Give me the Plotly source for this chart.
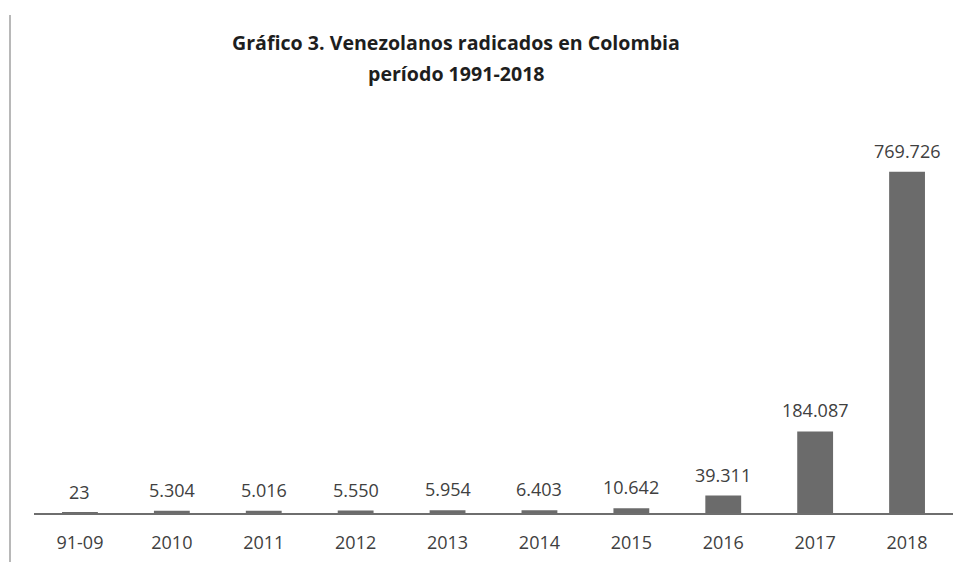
import plotly.graph_objects as go

categories = ["91-09", "2010", "2011", "2012", "2013", "2014", "2015", "2016", "2017", "2018"]
values = [23, 5304, 5016, 5550, 5954, 6403, 10642, 39311, 184087, 769726]
labels = ["23", "5.304", "5.016", "5.550", "5.954", "6.403", "10.642", "39.311", "184.087", "769.726"]
title_lines = ["Gráfico 3. Venezolanos radicados en Colombia", "período 1991-2018"]

# page has an 8px body margin; figure coords = page coords - 8
W, H = 960, 554
L, R, T, B = 26, 15, 106, 49
plot_w = W - L - R
plot_h = H - T - B

def px(x):
    return (x - L) / plot_w

def py(y):
    return (H - B - y) / plot_h

FONT = "Open Sans, sans-serif"

fig = go.Figure()
fig.add_trace(go.Bar(
    x=categories, y=values,
    marker=dict(color="#6b6b6b", line=dict(width=0)),
    width=0.39, cliponaxis=False, hoverinfo="x+y",
))

# category index positions for the value labels
label_annotations = [
    dict(x=i, y=v, xref="x", yref="y", text=t, showarrow=False,
         xanchor="center", yanchor="middle", yshift=21,
         font=dict(family=FONT, size=18, color="#404040"))
    for i, (v, t) in enumerate(zip(values, labels))
]

title_annotations = [
    dict(text="<b>" + title_lines[0] + "</b>", xref="paper", yref="paper",
         x=px(448), y=py(35), xanchor="center", yanchor="middle", showarrow=False,
         font=dict(family=FONT, size=19.6, color="#1e1e1e")),
    dict(text="<b>" + title_lines[1] + "</b>", xref="paper", yref="paper",
         x=px(448), y=py(65), xanchor="center", yanchor="middle", showarrow=False,
         font=dict(family=FONT, size=19.6, color="#1e1e1e")),
]

fig.update_layout(
    width=W, height=H,
    margin=dict(l=L, r=R, t=T, b=B, autoexpand=False),
    paper_bgcolor="white", plot_bgcolor="white",
    showlegend=False,
    xaxis=dict(
        type="category", categoryorder="array", categoryarray=categories,
        range=[-0.5, len(categories) - 0.5], automargin=False,
        showline=True, linecolor="#6e6e6e", linewidth=1.5,
        ticks="", ticklabelstandoff=13,
        tickfont=dict(family=FONT, size=18, color="#404040"),
        showgrid=False, zeroline=False,
    ),
    yaxis=dict(range=[0, 900000], visible=False, showgrid=False, zeroline=False,
               automargin=False),
    annotations=label_annotations + title_annotations,
    shapes=[dict(
        type="line", xref="paper", yref="paper",
        x0=px(2), x1=px(2), y0=py(7), y1=py(H + 8),
        line=dict(color="#b8b8b8", width=2),
    )],
)

fig.write_html("out.html")
